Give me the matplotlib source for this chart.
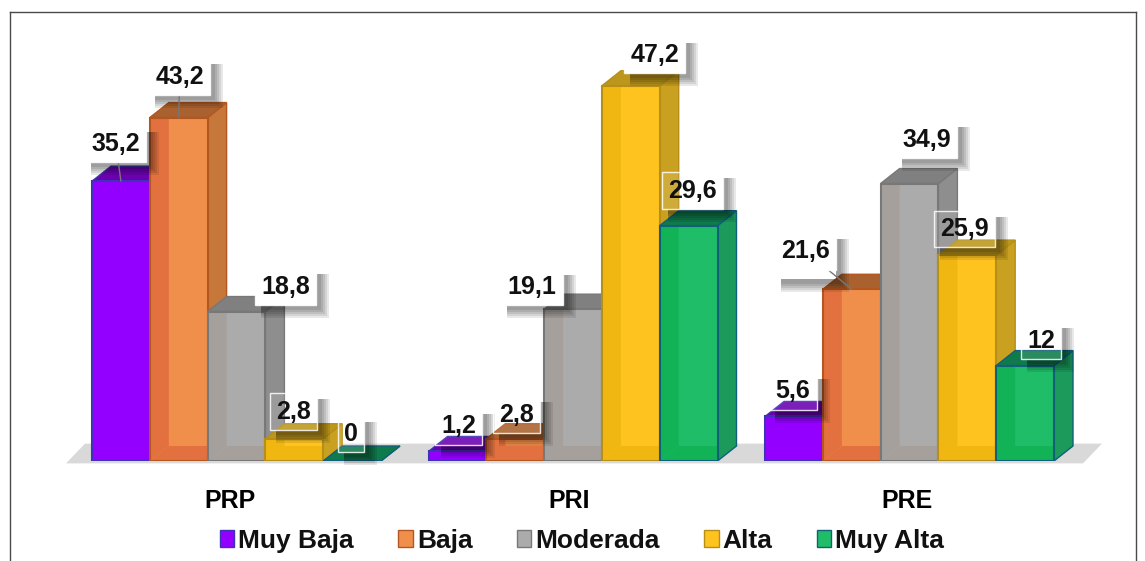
import matplotlib
matplotlib.use('Agg')
import matplotlib.pyplot as plt
from matplotlib.lines import Line2D
from matplotlib.patches import Polygon, Rectangle, Patch
from matplotlib.transforms import IdentityTransform

plt.rcParams['font.family'] = ['Liberation Sans', 'DejaVu Sans']
plt.rcParams['font.weight'] = 'bold'

categories = ['PRP', 'PRI', 'PRE']
series_names = ['Muy Baja', 'Baja', 'Moderada', 'Alta', 'Muy Alta']
muy_baja = [35.2, 1.2, 5.6]
baja = [43.2, 2.8, 21.6]
moderada = [18.8, 19.1, 34.9]
alta = [2.8, 47.2, 25.9]
muy_alta = [0, 29.6, 12]
all_series = [muy_baja, baja, moderada, alta, muy_alta]

# colours per series
front_cols = ['#9400FF', '#F08F4B', '#ABABAB', '#FFC31F', '#1FBD68']
inner_cols = ['#9400FF', '#E2713F', '#A5A09C', '#F0B612', '#12B356']
side_cols = ['#6A00B0', '#C6773A', '#8E8E8E', '#C9A01F', '#1B9A5C']
top_cols = ['#6A00B0', '#A9622F', '#808080', '#BC971C', '#0F7A4C']
edge_cols = ['#3E32B5', '#B4561F', '#787878', '#B58F18', '#10607A']

# label placement, pixels from the top centre of each bar (dx, dy), one row per group
label_off = [[(-5, 37), (1, 41), (49, 25), (-1, 27), (-1, 27)],
             [(1, 25), (1, 24), (-41, 22), (24, 31), (4, 35)],
             [(-1, 25), (-46, 38), (17, 44), (-3, 26), (16, 25)]]
label_solid = [[True, True, True, False, False],
               [False, False, True, True, False],
               [False, True, True, False, False]]
leaders = [(0, 0), (0, 1), (2, 1)]
tall_box = (2, 1)   # this label box hangs further down, its shadow with it

W, H = 1145, 561
BAR_PX = 57.8      # one bar width in pixels
VAL_PX = 7.95      # one percent in pixels
X0_PX = 92
BASE_PX = 461
DX = 19 / BAR_PX   # depth of the fake 3d
DY = 15 / VAL_PX
GROUP_STEP = 336.5 / BAR_PX

fig = plt.figure(figsize=(W / 100, H / 100), dpi=100, facecolor='white')
ax = fig.add_axes([0, (H - BASE_PX) / H, 1, BASE_PX / H])
ax.set_xlim(-X0_PX / BAR_PX, (W - X0_PX) / BAR_PX)
ax.set_ylim(0, BASE_PX / VAL_PX)
ax.set_facecolor('none')
for s in ax.spines.values():
    s.set_visible(False)
ax.set_yticks([])

# floor
floor_left = -26 / BAR_PX
floor_right = (1083 - X0_PX) / BAR_PX
ax.add_patch(Polygon([(floor_left, -0.3), (floor_right, -0.3),
                      (floor_right + DX, DY + 0.3), (floor_left + DX, DY + 0.3)],
                     closed=True, facecolor='#D9D9D9', edgecolor='none',
                     clip_on=False, zorder=1))

z = 2
centres = []
for g in range(len(categories)):
    row = []
    for i, vals in enumerate(all_series):
        v = vals[g]
        x = g * GROUP_STEP + i
        ec = edge_cols[i]
        # right side and top
        ax.add_patch(Polygon([(x + 1, 0), (x + 1 + DX, DY), (x + 1 + DX, v + DY), (x + 1, v)],
                             closed=True, facecolor=side_cols[i], edgecolor=ec, lw=1, zorder=z))
        ax.add_patch(Polygon([(x, v), (x + 1, v), (x + 1 + DX, v + DY), (x + DX, v + DY)],
                             closed=True, facecolor=top_cols[i], edgecolor=ec, lw=1, zorder=z))
        # front, the inner left wall and floor seen through it
        ax.bar(x, v, width=1, align='edge', color=front_cols[i], edgecolor='none', zorder=z + 0.1)
        if v > DY:
            ax.add_patch(Polygon([(x, 0), (x + DX, DY), (x + DX, v), (x, v)], closed=True,
                                 facecolor=inner_cols[i], edgecolor='none', zorder=z + 0.2))
            ax.add_patch(Polygon([(x, 0), (x + 1, 0), (x + 1, DY), (x + DX, DY)], closed=True,
                                 facecolor=inner_cols[i], edgecolor='none', zorder=z + 0.2))
        ax.bar(x, v, width=1, align='edge', color='none', edgecolor=ec, lw=1.5, zorder=z + 0.3)
        row.append((x + 0.5, v))
        z += 1
    centres.append(row)

# category labels
tick_pos = [2.39 + g * 338.5 / BAR_PX for g in range(len(categories))]
ax.set_xticks(tick_pos)
ax.set_xticklabels(categories, fontsize=18, fontweight='bold')
ax.tick_params(axis='x', length=0, pad=20)

# value labels
notes = []
for g, row in enumerate(centres):
    for i, (cx, v) in enumerate(row):
        solid = label_solid[g][i]
        arrow = None
        if (g, i) in leaders:
            arrow = dict(arrowstyle='-', color='#777777', lw=1, shrinkA=0, shrinkB=0)
        txt = str(v).replace('.', ',')
        a = ax.annotate(txt, xy=(cx, v), xytext=label_off[g][i], textcoords='offset pixels',
                        ha='center', va='center', fontsize=18, fontweight='bold', color='#111111',
                        bbox=dict(boxstyle='square,pad=0.25',
                                  facecolor='white' if solid else (1, 1, 1, 0.12),
                                  edgecolor=(1, 1, 1, 0.85), lw=1),
                        arrowprops=arrow, zorder=100 + g * 5 + i)
        notes.append((a, (g, i)))

# soft shadows right of and under each label box
fig.canvas.draw()
for a, key in notes:
    box = a.get_bbox_patch().get_window_extent()
    drop = 9 if key == tall_box else 0
    for k in range(5):
        grow = 5 + k * 2
        s1 = Rectangle((box.x1, box.y0 - drop - grow), grow, box.height - 6 + drop + grow,
                       transform=IdentityTransform(), facecolor='black', edgecolor='none',
                       alpha=0.09, clip_on=False, zorder=a.get_zorder() - 0.5)
        s2 = Rectangle((box.x0 + 6, box.y0 - drop - grow), box.width - 6, grow,
                       transform=IdentityTransform(), facecolor='black', edgecolor='none',
                       alpha=0.09, clip_on=False, zorder=a.get_zorder() - 0.5)
        ax.add_artist(s1)
        ax.add_artist(s2)

# legend
handles = [Patch(facecolor=front_cols[i], edgecolor=edge_cols[i], lw=1) for i in range(5)]
fig.legend(handles, series_names, loc='center', bbox_to_anchor=(582 / W, 1 - 541 / H), ncol=5,
           frameon=False, prop={'size': 19, 'weight': 'bold'}, handlelength=0.55, handleheight=0.6,
           handletextpad=0.15, columnspacing=1.68, labelcolor='#111111')

# frame of the picture, open at the bottom
frame = [([9.5, 9.5], [H, 11.5]), ([9.5, 1135.5], [11.5, 11.5]), ([1135.5, 1135.5], [11.5, H])]
for xs, ys in frame:
    fig.add_artist(Line2D([p / W for p in xs], [1 - p / H for p in ys], color='#4A4A4A', lw=1,
                          transform=fig.transFigure))

fig.savefig('out.png', dpi=100)
